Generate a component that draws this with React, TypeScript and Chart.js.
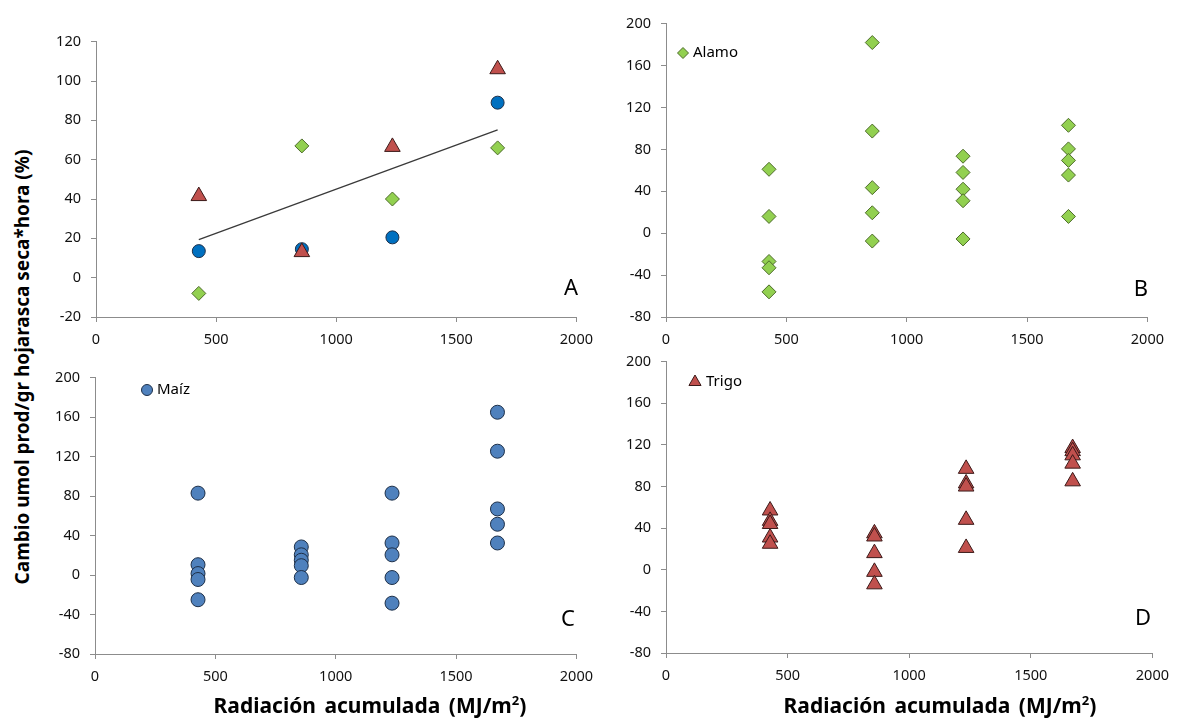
import React, { useEffect, useRef } from 'react';
import { Chart, registerables } from 'chart.js';

Chart.register(...registerables);

// ---------- DATA ----------
const radiation = [428, 857, 1234, 1672];
const xTicks = [0, 500, 1000, 1500, 2000];

// Panel A: means per radiation level
const alamoMean = [-8, 67, 40, 66];
const maizMean = [13.5, 14.5, 20.5, 89];
const trigoMean = [41.5, 13, 66.5, 106];
const trendX = [428, 1672];
const trendY = [19.3, 75.2];

// Panel B: Alamo replicates
const alamo428 = [61, 16, -27, -33, -56];
const alamo857 = [182, 97.5, 43.5, 19.5, -7.5];
const alamo1234 = [73.5, 58, 42, 31, -5.5];
const alamo1672 = [103, 80.5, 69.5, 55.5, 16];

// Panel C: Maíz replicates
const maiz428 = [83, 10.5, 1.5, -4.5, -25];
const maiz857 = [28.5, 20.5, 15, 9.5, -2.5];
const maiz1234 = [83, 32.5, 20.5, -2.5, -28.5];
const maiz1672 = [165, 125.5, 67, 51.5, 32.5];

// Panel D: Trigo replicates
const trigo428 = [57, 47, 44, 31, 25];
const trigo857 = [35, 32, 16, -2, -14];
const trigo1234 = [97, 83, 80, 48, 21];
const trigo1672 = [117, 114, 110, 102, 85];

const yTicksA = [-20, 0, 20, 40, 60, 80, 100, 120];
const yTicksBCD = [-80, -40, 0, 40, 80, 120, 160, 200];

// ---------- STYLES ----------
const AXIS_COLOR = '#8c8c8c';
const TICK_FONT = { family: '"Noto Sans", sans-serif', size: 14.5 };
const TICK_COLOR = '#111';

const GREEN = '#92D050';
const GREEN_EDGE = '#4d6b2a';
const BLUE_A = '#0070C0';
const BLUE_C = '#4F81BD';
const BLUE_EDGE = '#1d2f48';
const RED = '#C0504D';
const RED_EDGE = '#3b1a19';

const toPoints = (xs: number[], ys: number[]) => xs.map((x, i) => ({ x, y: ys[i] }));
const groupPoints = (groups: number[][]) =>
  groups.flatMap((g, i) => g.map((v) => ({ x: radiation[i], y: v })));

type Legend = {
  shape: 'diamond' | 'circle' | 'triangle';
  fill: string;
  stroke: string;
  label: string;
  mx: number;
  my: number;
  r: number;
  tx: number;
};

type Panel = {
  area: { l: number; t: number; r: number; b: number };
  yTicks: number[];
  datasets: any[];
  letter: string;
  letterX: number;
  letterY: number;
  legend?: Legend;
};

const PAD_L = 60;
const PAD_T = 15;
const PAD_R = 25;
const PAD_B = 40;

function drawShape(ctx: CanvasRenderingContext2D, shape: string, x: number, y: number, r: number) {
  ctx.beginPath();
  if (shape === 'diamond') {
    ctx.moveTo(x - r, y);
    ctx.lineTo(x, y - r);
    ctx.lineTo(x + r, y);
    ctx.lineTo(x, y + r);
    ctx.closePath();
  } else if (shape === 'circle') {
    ctx.arc(x, y, r, 0, Math.PI * 2);
  } else {
    const h = r * 0.866;
    ctx.moveTo(x, y - r);
    ctx.lineTo(x + h, y + r / 2);
    ctx.lineTo(x - h, y + r / 2);
    ctx.closePath();
  }
  ctx.fill();
  ctx.stroke();
}

function ChartPanel({ panel }: { panel: Panel }) {
  const ref = useRef<HTMLCanvasElement>(null);
  const { area } = panel;
  const offX = area.l - PAD_L;
  const offY = area.t - PAD_T;
  const w = area.r - area.l + PAD_L + PAD_R;
  const h = area.b - area.t + PAD_T + PAD_B;

  useEffect(() => {
    if (!ref.current) return;
    const overlay = {
      id: 'overlay',
      afterDatasetsDraw(chart: any) {
        const ctx: CanvasRenderingContext2D = chart.ctx;
        ctx.save();
        ctx.fillStyle = '#000';
        ctx.font = '22px "Noto Sans", sans-serif';
        ctx.textAlign = 'center';
        ctx.textBaseline = 'middle';
        ctx.fillText(panel.letter, panel.letterX - offX, panel.letterY - offY);
        const lg = panel.legend;
        if (lg) {
          ctx.fillStyle = lg.fill;
          ctx.strokeStyle = lg.stroke;
          ctx.lineWidth = 1;
          drawShape(ctx, lg.shape, lg.mx - offX, lg.my - offY, lg.r);
          ctx.fillStyle = '#000';
          ctx.font = '15px "Noto Sans", sans-serif';
          ctx.textAlign = 'left';
          ctx.fillText(lg.label, lg.tx - offX, lg.my - offY);
        }
        ctx.restore();
      },
    };
    const yt = panel.yTicks;
    const chart = new Chart(ref.current, {
      type: 'scatter',
      data: { datasets: panel.datasets },
      options: {
        animation: false,
        responsive: false,
        maintainAspectRatio: false,
        layout: { padding: { top: PAD_T, right: PAD_R, left: 0, bottom: 0 } },
        plugins: { legend: { display: false }, tooltip: { enabled: false } },
        scales: {
          x: {
            type: 'linear',
            min: xTicks[0],
            max: xTicks[xTicks.length - 1],
            afterBuildTicks: (s: any) => {
              s.ticks = xTicks.map((v) => ({ value: v }));
            },
            ticks: { color: TICK_COLOR, font: TICK_FONT, padding: 9, callback: (v: any) => String(v) },
            grid: { drawOnChartArea: false, drawTicks: true, tickLength: 5, color: AXIS_COLOR },
            border: { color: AXIS_COLOR, width: 1 },
            afterFit: (s: any) => {
              s.height = PAD_B;
            },
          },
          y: {
            type: 'linear',
            min: yt[0],
            max: yt[yt.length - 1],
            afterBuildTicks: (s: any) => {
              s.ticks = yt.map((v) => ({ value: v }));
            },
            ticks: { color: TICK_COLOR, font: TICK_FONT, padding: 10, callback: (v: any) => String(v) },
            grid: { drawOnChartArea: false, drawTicks: true, tickLength: 5, color: AXIS_COLOR },
            border: { color: AXIS_COLOR, width: 1 },
            afterFit: (s: any) => {
              s.width = PAD_L;
            },
          },
        },
      } as any,
      plugins: [overlay],
    });
    return () => chart.destroy();
  }, []);

  return (
    <canvas
      ref={ref}
      width={w}
      height={h}
      style={{ position: 'absolute', left: offX, top: offY, width: w, height: h }}
    />
  );
}

const diamondStyle = {
  pointStyle: 'rectRot',
  pointRadius: 7,
  backgroundColor: GREEN,
  borderColor: GREEN_EDGE,
  borderWidth: 1,
};
const triangleStyle = {
  pointStyle: 'triangle',
  pointRadius: 9,
  backgroundColor: RED,
  borderColor: RED_EDGE,
  borderWidth: 1,
};

const panels: Panel[] = [
  {
    area: { l: 96, t: 38, r: 577, b: 317 },
    yTicks: yTicksA,
    letter: 'A',
    letterX: 571,
    letterY: 289,
    datasets: [
      { label: 'Trigo', data: toPoints(radiation, trigoMean), ...triangleStyle },
      {
        label: 'Maíz',
        data: toPoints(radiation, maizMean),
        pointStyle: 'circle',
        pointRadius: 6.5,
        backgroundColor: BLUE_A,
        borderColor: BLUE_EDGE,
        borderWidth: 1,
      },
      { label: 'Alamo', data: toPoints(radiation, alamoMean), ...diamondStyle },
      {
        label: 'Tendencia',
        data: toPoints(trendX, trendY),
        showLine: true,
        pointRadius: 0,
        borderColor: '#3a3a3a',
        borderWidth: 1.3,
      },
    ],
  },
  {
    area: { l: 666, t: 20, r: 1148, b: 317 },
    yTicks: yTicksBCD,
    letter: 'B',
    letterX: 1141,
    letterY: 290,
    legend: { shape: 'diamond', fill: GREEN, stroke: GREEN_EDGE, label: 'Alamo', mx: 683, my: 53, r: 5.5, tx: 693 },
    datasets: [{ label: 'Alamo', data: groupPoints([alamo428, alamo857, alamo1234, alamo1672]), ...diamondStyle }],
  },
  {
    area: { l: 95, t: 374, r: 577, b: 654 },
    yTicks: yTicksBCD,
    letter: 'C',
    letterX: 568,
    letterY: 620,
    legend: { shape: 'circle', fill: BLUE_C, stroke: BLUE_EDGE, label: 'Maíz', mx: 147, my: 390, r: 5.5, tx: 157 },
    datasets: [
      {
        label: 'Maíz',
        data: groupPoints([maiz428, maiz857, maiz1234, maiz1672]),
        pointStyle: 'circle',
        pointRadius: 7,
        backgroundColor: BLUE_C,
        borderColor: BLUE_EDGE,
        borderWidth: 1,
      },
    ],
  },
  {
    area: { l: 666, t: 358, r: 1153, b: 653 },
    yTicks: yTicksBCD,
    letter: 'D',
    letterX: 1143,
    letterY: 619,
    legend: { shape: 'triangle', fill: RED, stroke: RED_EDGE, label: 'Trigo', mx: 695, my: 382, r: 7, tx: 706 },
    datasets: [{ label: 'Trigo', data: groupPoints([trigo428, trigo857, trigo1234, trigo1672]), ...triangleStyle }],
  },
];

const titleFont = '"Noto Sans", sans-serif';

function XTitle({ cx }: { cx: number }) {
  return (
    <div
      style={{
        position: 'absolute',
        left: cx,
        top: 705,
        transform: 'translate(-50%, -50%)',
        whiteSpace: 'nowrap',
        fontFamily: titleFont,
        fontWeight: 700,
        fontSize: 21,
        wordSpacing: 3,
        color: '#000',
        lineHeight: 1,
      }}
    >
      Radiación acumulada (MJ/m<sup style={{ fontSize: '0.62em', verticalAlign: '0.55em' }}>2</sup>)
    </div>
  );
}

export default function App() {
  return (
    <div style={{ position: 'fixed', left: 0, top: 0, width: 1177, height: 719, background: '#fff', overflow: 'hidden' }}>
      {panels.map((p, i) => (
        <ChartPanel key={i} panel={p} />
      ))}
      <div
        style={{
          position: 'absolute',
          left: 22,
          top: 367,
          transform: 'translate(-50%, -50%) rotate(-90deg)',
          whiteSpace: 'nowrap',
          fontFamily: titleFont,
          fontWeight: 700,
          fontSize: 19,
          color: '#000',
          lineHeight: 1,
        }}
      >
        Cambio umol prod/gr hojarasca seca*hora (%)
      </div>
      <XTitle cx={370} />
      <XTitle cx={940} />
    </div>
  );
}
